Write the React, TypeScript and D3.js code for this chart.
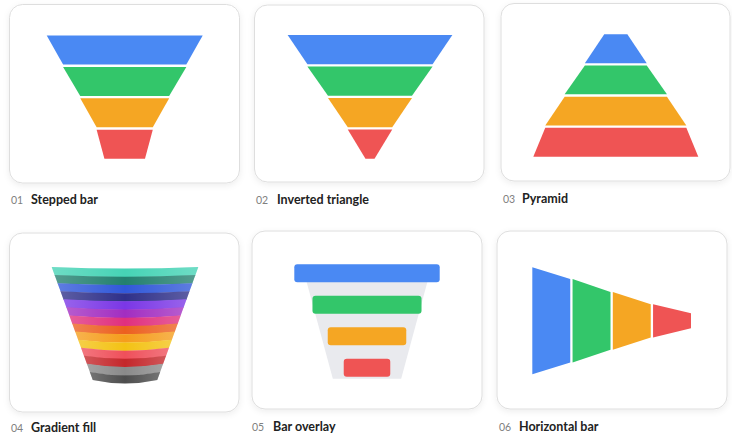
import React from "react";
import { scaleBand, scaleLinear, line } from "d3";

// funnel stages shared by the coloured charts
const stages = ["Awareness", "Interest", "Decision", "Action"];
const stageColors = ["#4a89f3", "#33c66a", "#f5a623", "#ef5454"];

// widths (or heights) at each band edge, in % of the widest edge
const steppedEdges = [100, 79, 57, 36, 26];
const triangleEdges = [100, 76, 51, 27, 5.5];
const pyramidEdges = [14, 37.5, 62, 85.5, 100];
const horizontalEdges = [100, 78, 54, 31, 14];
const overlayBars = [100, 75, 54, 32];
const overlayShell = [89, 47];

// 04 gradient fill stripes, top to bottom
const gradientStripes = [
  "#46d3b5", "#23806f", "#3158d9", "#2f3089", "#7b37e6", "#a22ec1", "#e0307e",
  "#ec601f", "#f59d1c", "#f3c214", "#ef505b", "#c4272b", "#8a8a8a", "#4d4d4d",
];
const gradientEdges = [100, 44];

const cardTitles = [
  { num: "01", title: "Stepped bar" },
  { num: "02", title: "Inverted triangle" },
  { num: "03", title: "Pyramid" },
  { num: "04", title: "Gradient fill" },
  { num: "05", title: "Bar overlay" },
  { num: "06", title: "Horizontal bar" },
];

const W = 732;
const H = 438;

const cards = [
  { x: 9.5, y: 4.5, w: 230, h: 178.5, nx: 11, tx: 31, ty: 204 },
  { x: 254.5, y: 5, w: 229.5, h: 177, nx: 256, tx: 277, ty: 204 },
  { x: 501, y: 3.5, w: 229, h: 177.5, nx: 503, tx: 522, ty: 203 },
  { x: 9.5, y: 233, w: 229.5, h: 179, nx: 11, tx: 31, ty: 432 },
  { x: 252, y: 231, w: 230, h: 178, nx: 252, tx: 273, ty: 431 },
  { x: 497, y: 231, w: 230, h: 178, nx: 499, tx: 519, ty: 431 },
];

const poly = line<[number, number]>();

// vertical trapezoid centred on cx
function vTrap(cx: number, y0: number, y1: number, wTop: number, wBot: number) {
  return (
    poly([
      [cx - wTop / 2, y0],
      [cx + wTop / 2, y0],
      [cx + wBot / 2, y1],
      [cx - wBot / 2, y1],
    ]) + "Z"
  );
}

function VerticalFunnel({ cx, top, bottom, maxW, edges }: {
  cx: number; top: number; bottom: number; maxW: number; edges: number[];
}) {
  const y = scaleBand<string>().domain(stages).range([top, bottom]).paddingInner(0.075);
  const w = scaleLinear().domain([0, 100]).range([0, maxW]);
  return (
    <g>
      {stages.map((s, i) => (
        <path
          key={s}
          d={vTrap(cx, y(s)!, y(s)! + y.bandwidth(), w(edges[i]), w(edges[i + 1]))}
          fill={stageColors[i]}
        />
      ))}
    </g>
  );
}

function HorizontalFunnel() {
  const x = scaleBand<string>().domain(stages).range([532.3, 691]).paddingInner(0.057);
  const h = scaleLinear().domain([0, 100]).range([0, 107]);
  const cy = 320.8;
  return (
    <g>
      {stages.map((s, i) => {
        const x0 = x(s)!;
        const x1 = x0 + x.bandwidth();
        const h0 = h(horizontalEdges[i]) / 2;
        const h1 = h(horizontalEdges[i + 1]) / 2;
        const d =
          poly([
            [x0, cy - h0],
            [x1, cy - h1],
            [x1, cy + h1],
            [x0, cy + h0],
          ]) + "Z";
        return <path key={s} d={d} fill={stageColors[i]} />;
      })}
    </g>
  );
}

function BarOverlay() {
  const cx = 367;
  const y = scaleBand<string>().domain(stages).range([264.3, 376.7]).paddingInner(0.428);
  const w = scaleLinear().domain([0, 100]).range([0, 145.4]);
  return (
    <g>
      <path d={vTrap(cx, 266, 378.7, w(overlayShell[0]), w(overlayShell[1]))} fill="#e9eaee" />
      {stages.map((s, i) => (
        <rect
          key={s}
          x={cx - w(overlayBars[i]) / 2}
          y={y(s)}
          width={w(overlayBars[i])}
          height={y.bandwidth()}
          rx={3}
          fill={stageColors[i]}
        />
      ))}
    </g>
  );
}

function GradientFunnel() {
  const cx = 125;
  const top = 267;
  const bottom = 380;
  const ids = gradientStripes.map((_, i) => String(i));
  const y = scaleBand<string>().domain(ids).range([top, bottom]);
  const w = scaleLinear().domain([top, bottom]).range([gradientEdges[0] * 1.466, gradientEdges[1] * 1.466]);
  const sag = scaleLinear().domain([top, bottom]).range([1.5, 3.5]);
  const edge = (yy: number) => {
    const hw = w(yy) / 2;
    return { l: cx - hw, r: cx + hw, s: sag(yy) };
  };
  return (
    <g>
      <defs>
        <linearGradient id="shade" x1="0" x2="1" y1="0" y2="0">
          <stop offset="0" stopColor="#fff" stopOpacity={0.22} />
          <stop offset="0.5" stopColor="#fff" stopOpacity={0} />
          <stop offset="1" stopColor="#fff" stopOpacity={0.22} />
        </linearGradient>
      </defs>
      {ids.map((id, i) => {
        const y0 = y(id)!;
        const y1 = y0 + y.bandwidth() + (i < ids.length - 1 ? 0.4 : 0);
        const a = edge(y0);
        const b = edge(y1);
        const d =
          `M${a.l},${y0}Q${cx},${y0 + a.s * 2} ${a.r},${y0}` +
          `L${b.r},${y1}Q${cx},${y1 + b.s * 2} ${b.l},${y1}Z`;
        return (
          <g key={id}>
            <path d={d} fill={gradientStripes[i]} />
            <path d={d} fill="url(#shade)" />
          </g>
        );
      })}
    </g>
  );
}

export default function App() {
  return (
    <div style={{ position: "absolute", left: 0, top: 0 }}>
      <svg width={W} height={H} viewBox={`0 0 ${W} ${H}`} style={{ display: "block", background: "#fff" }}>
        <defs>
          <filter id="cardShadow" x="-10%" y="-10%" width="120%" height="125%">
            <feDropShadow dx="0" dy="2" stdDeviation="3" floodColor="#000" floodOpacity="0.07" />
          </filter>
        </defs>
        {cards.map((c, i) => (
          <g key={i}>
            <rect
              x={c.x}
              y={c.y}
              width={c.w}
              height={c.h}
              rx={13}
              fill="#fff"
              stroke="#dedede"
              strokeWidth={1}
              filter="url(#cardShadow)"
            />
            <text x={c.nx} y={c.ty} fontFamily="Lato, 'Open Sans', sans-serif" fontSize={10.5} fill="#808080">
              {cardTitles[i].num}
            </text>
            <text
              x={c.tx}
              y={c.ty}
              fontFamily="Lato, 'Open Sans', sans-serif"
              fontSize={12.5}
              fontWeight={700}
              fill="#222"
            >
              {cardTitles[i].title}
            </text>
          </g>
        ))}
        <VerticalFunnel cx={124.7} top={35.6} bottom={158.7} maxW={156} edges={steppedEdges} />
        <VerticalFunnel cx={370} top={35} bottom={158.7} maxW={164.7} edges={triangleEdges} />
        <VerticalFunnel cx={615.8} top={34.3} bottom={156.7} maxW={165} edges={pyramidEdges} />
        <GradientFunnel />
        <BarOverlay />
        <HorizontalFunnel />
      </svg>
    </div>
  );
}
